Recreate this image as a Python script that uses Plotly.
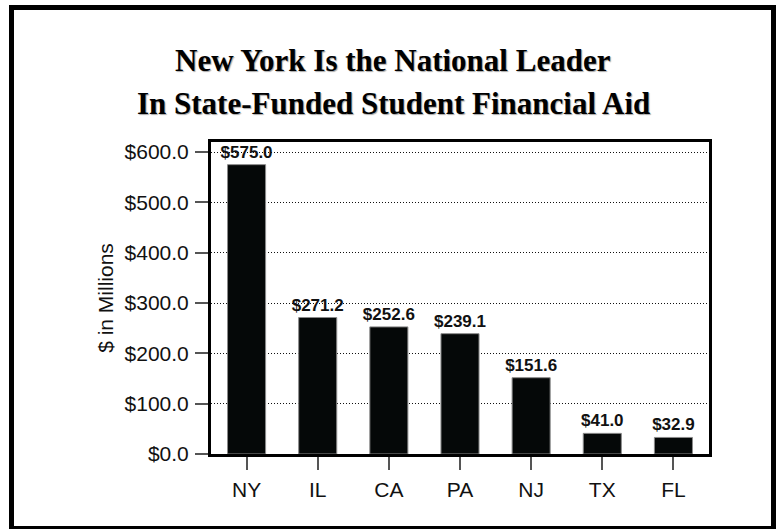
import plotly.graph_objects as go

# State-funded student financial aid, $ in millions
states = ["NY", "IL", "CA", "PA", "NJ", "TX", "FL"]
aid_millions = [575.0, 271.2, 252.6, 239.1, 151.6, 41.0, 32.9]
y_ticks = [0, 100, 200, 300, 400, 500, 600]
y_tick_labels = [f"${v:.1f}" for v in y_ticks]

title_lines = ["New York Is the National Leader", "In State-Funded Student Financial Aid"]

W, H = 776, 529
L, R, T, B = 211, 67, 142, 75
plot_w = W - L - R
plot_h = H - T - B


def px_x(x):
    return (x - L) / plot_w


def px_y(y):
    return (H - B - y) / plot_h


fig = go.Figure(
    go.Bar(
        x=states,
        y=aid_millions,
        marker=dict(color="#050808", line=dict(color="#8a8a8a", width=1)),
        text=[f"${v:.1f}" for v in aid_millions],
        textposition="outside",
        constraintext="none",
        textfont=dict(family="Liberation Sans", size=17, color="#111", weight="bold"),
        cliponaxis=False,
        width=0.535,
    )
)

fig.update_layout(
    width=W,
    height=H,
    margin=dict(l=L, r=R, t=T, b=B, pad=0),
    paper_bgcolor="white",
    plot_bgcolor="white",
    showlegend=False,
    font=dict(family="Liberation Sans", color="#111"),
)

fig.update_yaxes(
    range=[0, 620],
    tickvals=y_ticks,
    ticktext=y_tick_labels,
    tickfont=dict(size=21, color="#111"),
    ticks="outside",
    ticklen=13,
    tickwidth=2,
    tickcolor="#555",
    ticklabelstandoff=2,
    showgrid=True,
    gridcolor="#111",
    gridwidth=1,
    griddash="1px,2px",
    showline=True,
    linecolor="#000",
    linewidth=3,
    mirror=True,
    zeroline=False,
    title=dict(text="$ in Millions", font=dict(size=21, color="#111"), standoff=6),
)

fig.update_xaxes(
    tickfont=dict(size=21, color="#111"),
    ticks="outside",
    ticklen=13,
    tickwidth=2,
    tickcolor="#555",
    ticklabelstandoff=2,
    showline=True,
    linecolor="#000",
    linewidth=3,
    mirror=True,
    showgrid=False,
)

# Two-line serif title
for text, y_mid in zip(title_lines, [60, 103]):
    fig.add_annotation(
        text=f"<b>{text}</b>",
        xref="paper", yref="paper",
        x=px_x(393), y=px_y(y_mid),
        xanchor="center", yanchor="middle",
        showarrow=False,
        font=dict(family="Liberation Serif", size=31, color="#000",
                  shadow="1px 1px 1px rgba(0,0,0,0.35)"),
    )

# Heavy outer frame
fig.add_shape(
    type="rect",
    xref="paper", yref="paper",
    x0=px_x(11.5), x1=px_x(773.5), y0=px_y(528.5), y1=px_y(7.5),
    line=dict(color="#000", width=5),
    fillcolor="rgba(0,0,0,0)",
    layer="above",
)

fig.write_html("out.html")
